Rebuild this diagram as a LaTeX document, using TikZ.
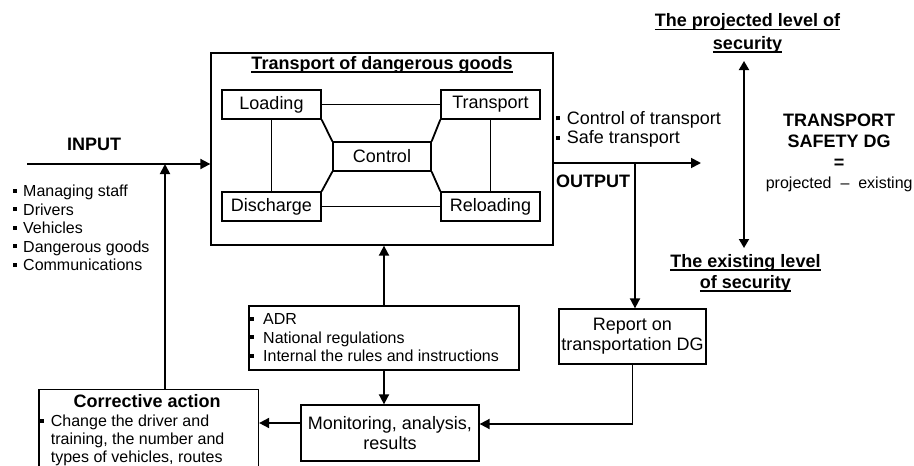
\documentclass[tikz,border=0pt]{standalone}
\usepackage{fontspec}
\setmainfont{Liberation Sans}
\usetikzlibrary{arrows.meta}
\newsavebox\ulbox
\newcommand\myul[1]{\sbox\ulbox{#1}\rlap{\rule[-3.6pt]{\wd\ulbox}{1.8pt}}\usebox\ulbox}
\newcommand\bulx[1]{\rule[4.2pt]{4pt}{4pt}\hspace{#1}}
\begin{document}
\begin{tikzpicture}[x=1pt,y=-1pt,
  box/.style={draw, line width=1.3pt, inner sep=0pt},
  tb/.style={font=\fontsize{18}{20}\selectfont, inner sep=0pt},
  tbb/.style={font=\fontsize{18}{20}\selectfont\bfseries, inner sep=0pt},
  ts/.style={font=\fontsize{16}{18.5}\selectfont, inner sep=0pt},
  con/.style={line width=1.8pt},
  arr/.style={line width=1.8pt, -{Triangle[length=10pt,width=10pt]}},
  dbl/.style={line width=1.8pt, {Triangle[length=9pt,width=10pt]}-{Triangle[length=9pt,width=10pt]}}]
\clip (0,0) rectangle (914,466);
% main box
\node[box, minimum width=342pt, minimum height=192pt] (big) at (382,149) {};
\node[tbb, anchor=base] (ttl) at (382,69.6) {\myul{Transport of dangerous goods}};
\node[box, tb, minimum width=99pt, minimum height=29pt] (load) at (271.5,104.5) {Loading};
\node[box, tb, minimum width=99pt, minimum height=29pt] (tran) at (490.5,104.5) {Transport};
\node[box, tb, minimum width=98pt, minimum height=29pt] (ctrl) at (382,156.5) {Control};
\node[box, tb, minimum width=99pt, minimum height=29pt] (dis) at (271.5,206.5) {Discharge};
\node[box, tb, minimum width=99pt, minimum height=29pt] (rel) at (490.5,206.5) {Reloading};
\draw[con] (load) -- (tran);
\draw[con] (load) -- (dis);
\draw[con] (tran) -- (rel);
\draw[con] (dis) -- (rel);
\draw[con] (load.south east) -- (ctrl.north west);
\draw[con] (tran.south west) -- (ctrl.north east);
\draw[con] (dis.north east) -- (ctrl.south west);
\draw[con] (rel.north west) -- (ctrl.south east);
% input
\coordinate (inS) at (27,164);
\draw[arr] (inS) -- (inS -| big.west);
\node[tbb, anchor=base] (inlab) at (94,150.7) {INPUT};
\node[ts, anchor=base west] (in1) at (13,196.8) {\bulx{6pt}Managing staff};
\node[ts, anchor=base west] (in2) at (13,215.3) {\bulx{6pt}Drivers};
\node[ts, anchor=base west] (in3) at (13,233.8) {\bulx{6pt}Vehicles};
\node[ts, anchor=base west] (in4) at (13,252.3) {\bulx{6pt}Dangerous goods};
\node[ts, anchor=base west] (in5) at (13,270.8) {\bulx{6pt}Communications};
% corrective action
\node[box, anchor=north west, minimum width=219.5pt, minimum height=100pt] (corr) at (38.3,389) {};
\node[tbb, anchor=base] (corrT) at (147.2,407.5) {Corrective action};
\node[ts, anchor=base west] (c1) at (40,426.8) {\bulx{6.7pt}Change the driver and};
\node[ts, anchor=base west] (c2) at (50.7,444.8) {training, the number and};
\node[ts, anchor=base west] (c3) at (50.7,462.8) {types of vehicles, routes};
\coordinate (upX) at (165,164);
\draw[arr] (upX |- corr.north) -- (upX);
% regulations
\node[box, minimum width=270pt, minimum height=64pt] (adr) at (384,338) {};
\node[ts, anchor=base west] (a1) at (249.5,324.8) {\bulx{9.5pt}ADR};
\node[ts, anchor=base west] (a2) at (249.5,343.3) {\bulx{9.5pt}National regulations};
\node[ts, anchor=base west] (a3) at (249.5,361.8) {\bulx{9.5pt}Internal the rules and instructions};
\draw[arr] (adr.north) -- (adr.north |- big.south);
% monitoring
\node[box, tb, align=center, minimum width=178pt, minimum height=56pt, font=\fontsize{18}{19.5}\selectfont] (mon) at (390,433) {Monitoring, analysis,\\results};
\draw[arr] (adr.south) -- (adr.south |- mon.north);
\coordinate (mcL) at (0,423);
\draw[arr] (mcL -| mon.west) -- (mcL -| corr.east);
% report
\node[box, tb, align=center, minimum width=147pt, minimum height=55pt] (rep) at (632.5,336.5) {Report on\\transportation DG};
\coordinate (rm) at (632,424);
\draw[arr] (rep.south) -- (rep.south |- rm) -- (rm -| mon.east);
% output
\coordinate (outE) at (701,163);
\coordinate (outJ) at (635,163);
\draw[arr] (outE -| big.east) -- (outE);
\draw[arr] (outJ) -- (outJ |- rep.north);
\node[tb, anchor=base west] (o1) at (556,124.5) {\bulx{6.7pt}Control of transport};
\node[tb, anchor=base west] (o2) at (556,143.8) {\bulx{6.7pt}Safe transport};
\node[tbb, anchor=base west] (olab) at (556,187.3) {OUTPUT};
% security levels
\coordinate (dT) at (744,61);
\coordinate (dB) at (744,248);
\draw[dbl] (dT) -- (dB);
\node[tbb, anchor=base] (p1) at (747.5,26.7) {\myul{The projected level of}};
\node[tbb, anchor=base] (p2) at (747.5,49) {\myul{security}};
\node[tbb, anchor=base] (e1) at (745.5,267.3) {\myul{The existing level}};
\node[tbb, anchor=base] (e2) at (745.5,288.3) {\myul{of security}};
\node[tbb, anchor=base] (t1) at (839.2,126.7) {TRANSPORT};
\node[tbb, anchor=base] (t2) at (839.2,147.3) {SAFETY DG};
\node[tbb, anchor=base] (t3) at (839.2,168) {=};
\node[ts, anchor=base] (t4) at (839.2,188) {projected\ \ –\ \ existing};
\end{tikzpicture}
\end{document}
